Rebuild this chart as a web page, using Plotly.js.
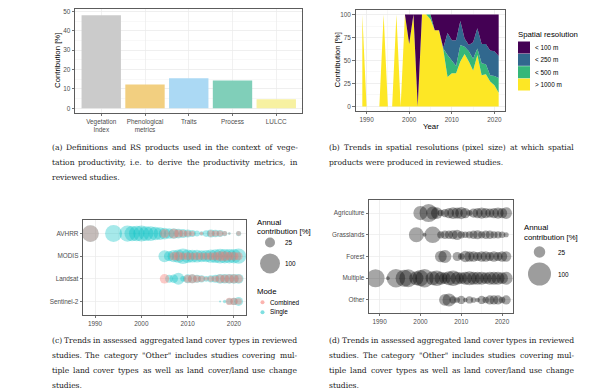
<!DOCTYPE html>
<html><head><meta charset="utf-8">
<script src="https://cdn.plot.ly/plotly-3.0.1.min.js"></script>
<style>html,body{margin:0;padding:0;background:#fff;} #chart{width:590px;height:390px;}</style>
</head><body><div id="chart"></div>
<script>
// ---------- (a) definitions / RS products ----------
const defCategories = ['Vegetation Index','Phenological metrics','Traits','Process','LULCC'];
const defTickLabels = ['Vegetation<br>Index','Phenological<br>metrics','Traits','Process','LULCC'];
const defContribution = [48, 12.3, 15.5, 14.3, 4.7];
const defColors = ['#cbcbcb','#f2cf80','#abd9f4','#80cfb9','#f7f1a1'];

// ---------- (b) spatial resolution (stacked %) ----------
const resYears = [1989,1990,1991,1992,1993,1994,1995,1996,1997,1998,1999,2000,2001,2002,2003,2004,2005,2006,2007,2008,2009,2010,2011,2012,2013,2014,2015,2016,2017,2018,2019,2020,2021];
const res1000 = [100,0,0,0,0,100,0,0,100,0,100,68,100,0,100,100,95,83,83,62,32,36,36,49,57,49,39,56,34,35,27,23,15];
const res500  = [0,0,0,0,0,0,0,0,0,0,0,0,0,0,0,0,5,0,0,1,24,14,8,18,8,11,13,7,13,11,7,10,16];
const res250  = [0,0,0,0,0,0,0,0,0,0,0,0,0,0,0,0,0,0,0,1,24,22,28,26,9,7,18,22,21,22,27,27,24];
const res100  = [0,0,0,0,0,0,0,0,0,0,0,32,0,100,0,0,0,17,17,36,20,28,28,7,26,33,30,15,32,32,39,40,45];
const resNames = ['> 1000 m','< 500 m','< 250 m','< 100 m'];
const resColors = ['#FDE725','#35B779','#31688E','#440154'];

// ---------- (c) sensors ----------
const sensors = ['AVHRR','MODIS','Landsat','Sentinel-2'];
const avhrrSingleYears = [1989,1994,1997,1998,1999,2000,2001,2002,2003,2004,2005,2006,2007,2008,2009,2010,2011,2012,2013,2014,2015,2016,2017,2018,2019,2021];
const avhrrSingleVals  = [70,72,65,58,60,64,55,55,46,40,34,28,28,24,20,16,12,9,5,11,16,14,12,7,2,7];
const avhrrCombYears = [1989,2005,2007,2008,2009,2010,2011,2013,2015,2016,2017,2018,2019,2021];
const avhrrCombVals  = [70,20,24,16,12,10,7,3,11,9,9,6,1,6];
const modisSingleYears = [2005,2006,2007,2008,2009,2010,2011,2012,2013,2014,2015,2016,2017,2018,2019,2020,2021];
const modisSingleVals  = [36,26,38,44,60,46,40,40,36,38,44,48,54,52,52,52,58];
const modisCombYears = [2007,2008,2009,2010,2011,2012,2013,2014,2015,2016,2017,2018,2019,2020,2021];
const modisCombVals  = [18,22,13,15,13,15,13,13,15,18,25,25,20,20,16];
const landsatSingleYears = [2006,2007,2008,2009,2010,2011,2012,2013,2014,2015,2016,2017,2018,2019,2020,2021];
const landsatSingleVals  = [16,18,36,8,20,20,16,13,8,13,16,24,22,24,24,24];
const landsatCombYears = [2005,2010,2011,2012,2013,2014,2015,2016,2017,2018,2019,2020,2021];
const landsatCombVals  = [22,15,20,13,10,4,8,10,18,18,20,20,18];
const s2SingleYears = [2017,2018,2019,2020,2021];
const s2SingleVals  = [1,3,10,13,20];
const s2CombYears = [2019,2020,2021];
const s2CombVals  = [13,13,10];
const modeNames = ['Combined','Single'];
const modeColors = ['rgba(248,118,109,0.55)','rgba(0,191,196,0.5)'];

// ---------- (d) land cover ----------
const landCovers = ['Agriculture','Grasslands','Forest','Multiple','Other'];
const agriYears = [2000,2002,2003,2004,2005,2006,2007,2008,2009,2010,2011,2012,2013,2014,2015,2016,2017,2018,2019,2020,2021];
const agriVals  = [38,62,32,26,8,13,20,26,24,28,20,7,16,20,24,20,16,20,24,20,26];
const grassYears = [1999,2001,2003,2005,2006,2007,2008,2009,2010,2011,2012,2013,2014,2015,2016,2017,2018,2019,2020,2021];
const grassVals  = [42,3,52,10,13,13,16,20,10,8,10,13,16,10,13,13,10,10,8,5];
const forestYears = [2005,2006,2009,2010,2011,2012,2013,2014,2015,2016,2017,2018,2019,2020,2021];
const forestVals  = [26,32,16,8,24,20,20,16,20,20,16,20,16,20,20];
const multiYears = [1989,1992,1994,1996,1997,1999,2000,2001,2003,2004,2005,2006,2007,2008,2009,2010,2011,2012,2013,2014,2015,2016,2017,2018,2019,2020,2021];
const multiVals  = [62,3,64,55,60,38,50,64,38,45,32,26,38,45,32,26,32,38,32,32,32,26,32,32,32,26,32];
const otherYears = [2006,2007,2008,2009,2010,2011,2012,2013,2014,2015,2016,2017,2018,2019,2020,2021];
const otherVals  = [26,32,10,6,13,4,10,6,4,13,8,16,16,16,8,16];

const sizeLegendVals = [25, 100];

// ---------- captions ----------
const captionA = ['(a) Definitions and RS products used in the context of vege-',
  'tation productivity, i.e. to derive the productivity metrics, in', 'reviewed studies.'];
const captionB = ['(b) Trends in spatial resolutions (pixel size) at which spatial',
  'products were produced in reviewed studies.'];
const captionC = ['(c) Trends in assessed aggregated land cover types in reviewed',
  'studies. The category "Other" includes studies covering mul-',
  'tiple land cover types as well as land cover/land use change', 'studies.'];
const captionD = ['(d) Trends in assessed aggregated land cover types in reviewed',
  'studies. The category "Other" includes studies covering mul-',
  'tiple land cover types as well as land cover/land use change', 'studies.'];

// ---------- layout helpers ----------
const W = 590, H = 390;
const SANS = 'Liberation Sans, Arial, sans-serif';
const SERIF_NAME = 'DejaVu Serif';
const CAP_SIZE = 7.6;
const P = x => x / W;
const Q = y => 1 - y / H;
const SREF_C = 0.5, SREF_D = 0.378;

function axis(x0, x1, extra) {
  return Object.assign({
    domain: [P(x0), P(x1)], showline: true, mirror: true, linecolor: '#333', linewidth: 0.8,
    ticks: 'outside', ticklen: 2.5, tickwidth: 0.7, tickcolor: '#333',
    tickfont: {family: SANS, size: 6.4, color: '#4d4d4d'},
    showgrid: true, gridcolor: '#ebebeb', gridwidth: 0.7, zeroline: false, fixedrange: true, automargin: false
  }, extra);
}
function yaxis(y0, y1, extra) { return axis(0, 1, Object.assign({domain: [Q(y1), Q(y0)]}, extra)); }
function txt(x, y, text, size, opts) {
  return Object.assign({xref: 'paper', yref: 'paper', x: P(x), y: Q(y), text: text, showarrow: false,
    xanchor: 'left', yanchor: 'middle', borderpad: 0, borderwidth: 0,
    font: {family: SANS, size: size, color: '#000'}}, opts || {});
}

const traces = [];
traces.push({type: 'bar', x: defCategories, y: defContribution, marker: {color: defColors, line: {width: 0}},
  xaxis: 'x', yaxis: 'y', showlegend: false, hoverinfo: 'none'});
const resSeries = [res1000, res500, res250, res100];
resSeries.forEach((s, i) => traces.push({type: 'scatter', x: resYears, y: s, mode: 'none', stackgroup: 'res',
  fillcolor: resColors[i], name: resNames[i], xaxis: 'x2', yaxis: 'y2', showlegend: false, hoverinfo: 'none'}));
const singleSets = [[avhrrSingleYears, avhrrSingleVals], [modisSingleYears, modisSingleVals], [landsatSingleYears, landsatSingleVals], [s2SingleYears, s2SingleVals]];
const combSets = [[avhrrCombYears, avhrrCombVals], [modisCombYears, modisCombVals], [landsatCombYears, landsatCombVals], [s2CombYears, s2CombVals]];
[[singleSets, 1], [combSets, 0]].forEach(([sets, m]) => {
  sets.forEach(([yrs, vals], i) => traces.push({type: 'scatter', mode: 'markers', x: yrs, y: yrs.map(() => sensors[i]),
    marker: {size: vals, sizemode: 'area', sizeref: SREF_C, color: modeColors[m], line: {width: 0}},
    xaxis: 'x3', yaxis: 'y3', showlegend: false, hoverinfo: 'none'}));
});
const lcSets = [[agriYears, agriVals], [grassYears, grassVals], [forestYears, forestVals], [multiYears, multiVals], [otherYears, otherVals]];
lcSets.forEach(([yrs, vals], i) => traces.push({type: 'scatter', mode: 'markers', x: yrs, y: yrs.map(() => landCovers[i]),
  marker: {size: vals, sizemode: 'area', sizeref: SREF_D, color: 'rgba(0,0,0,0.5)', line: {width: 0}},
  xaxis: 'x4', yaxis: 'y4', showlegend: false, hoverinfo: 'none'}));

// legend keys on a pixel overlay axis
const resKeyY = [84.5, 72.2, 59.8, 47.5];
traces.push({type: 'scatter', mode: 'markers', x: resKeyY.map(() => 524), y: resKeyY,
  marker: {symbol: 'square', size: 12, color: resColors, line: {width: 0}}, xaxis: 'x5', yaxis: 'y5', showlegend: false, hoverinfo: 'none'});
traces.push({type: 'scatter', mode: 'markers', x: [270, 270], y: [242.5, 263.5],
  marker: {size: sizeLegendVals, sizemode: 'area', sizeref: SREF_C, color: 'rgba(0,0,0,0.55)', line: {width: 0}},
  xaxis: 'x5', yaxis: 'y5', showlegend: false, hoverinfo: 'none'});
traces.push({type: 'scatter', mode: 'markers', x: [262.5, 262.5], y: [302.3, 312.3],
  marker: {size: 4, color: modeColors, line: {width: 0}}, xaxis: 'x5', yaxis: 'y5', showlegend: false, hoverinfo: 'none'});
traces.push({type: 'scatter', mode: 'markers', x: [539.5, 539.5], y: [252, 274],
  marker: {size: sizeLegendVals, sizemode: 'area', sizeref: SREF_D, color: 'rgba(0,0,0,0.55)', line: {width: 0}},
  xaxis: 'x5', yaxis: 'y5', showlegend: false, hoverinfo: 'none'});

const annotations = [
  txt(57, 61, 'Contribution [%]', 7.8, {xanchor: 'center', textangle: -90}),
  txt(337, 60.5, 'Contribution [%]', 7.8, {xanchor: 'center', textangle: -90}),
  txt(430.5, 127, 'Year', 7.8, {xanchor: 'center'}),
  txt(518, 34.5, 'Spatial resolution', 7.8),
  txt(257, 222, 'Annual', 7.8), txt(257, 231, 'contribution [%]', 7.8),
  txt(285, 242.5, String(sizeLegendVals[0]), 6.4), txt(285, 263.5, String(sizeLegendVals[1]), 6.4),
  txt(257, 291.5, 'Mode', 7.8),
  txt(524, 227.5, 'Annual', 7.8), txt(524, 237.5, 'contribution [%]', 7.8),
  txt(558, 252, String(sizeLegendVals[0]), 6.4), txt(558, 274, String(sizeLegendVals[1]), 6.4)
];
[...resNames].reverse().forEach((n, i) => annotations.push(txt(535, [47.5, 59.8, 72.2, 84.5][i], n, 6.4)));
modeNames.forEach((n, i) => annotations.push(txt(270, [302.3, 312.3][i], n, 6.4)));

// justified captions (like the LaTeX source)
const ctx = document.createElement('canvas').getContext('2d');
ctx.font = CAP_SIZE + 'px "' + SERIF_NAME + '"';
function capTxt(x, y, s) {
  return txt(x, y, s, CAP_SIZE, {font: {family: SERIF_NAME + ', serif', size: CAP_SIZE, color: '#1a1a1a'}});
}
function addCaption(x0, x1, ys, lines) {
  lines.forEach((line, i) => {
    const y = ys[i];
    if (i === lines.length - 1) { annotations.push(capTxt(x0, y, line)); return; }
    const words = line.split(' ');
    const widths = words.map(w => ctx.measureText(w).width);
    const total = widths.reduce((a, b) => a + b, 0);
    const gap = (x1 - x0 - total) / (words.length - 1);
    let x = x0;
    words.forEach((w, k) => { annotations.push(capTxt(x, y, w)); x += widths[k] + gap; });
  });
}
addCaption(51.5, 297, [147, 162.5, 178], captionA);
addCaption(329, 574, [147, 162.5], captionB);
addCaption(51.5, 297, [340, 355, 370, 385], captionC);
addCaption(329, 574, [340, 355, 370, 385], captionD);

const yearAxis = {range: [1987.4, 2022.6], tickvals: [1990, 2000, 2010, 2020], minor: {dtick: 5, tick0: 0, showgrid: true, gridcolor: '#f2f2f2', gridwidth: 0.5, ticks: ''}};

const layout = {
  width: W, height: H, margin: {l: 0, r: 0, t: 0, b: 0}, paper_bgcolor: '#fff', plot_bgcolor: 'rgba(0,0,0,0)',
  font: {family: SANS}, showlegend: false, bargap: 0.1,
  xaxis: axis(75, 302.5, {type: 'category', categoryarray: defCategories, tickvals: defCategories, ticktext: defTickLabels, range: [-0.6, 4.6], anchor: 'y'}),
  yaxis: yaxis(9, 113, {range: [-2.4, 51.2], tickvals: [0, 10, 20, 30, 40, 50], anchor: 'x', minor: {dtick: 5, showgrid: true, gridcolor: '#f2f2f2', gridwidth: 0.5, ticks: ''}}),
  xaxis2: axis(355.5, 505.5, Object.assign({anchor: 'y2'}, yearAxis)),
  yaxis2: yaxis(10, 111, {range: [-5, 105], tickvals: [0, 25, 50, 75, 100], anchor: 'x2', minor: {dtick: 12.5, showgrid: true, gridcolor: '#f2f2f2', gridwidth: 0.5, ticks: ''}}),
  xaxis3: axis(83, 246, Object.assign({anchor: 'y3'}, yearAxis)),
  yaxis3: yaxis(220, 315, {type: 'category', categoryarray: [...sensors].reverse(), range: [-0.6, 3.6], anchor: 'x3'}),
  xaxis4: axis(369, 512.7, Object.assign({anchor: 'y4'}, yearAxis)),
  yaxis4: yaxis(200, 313, {type: 'category', categoryarray: [...landCovers].reverse(), range: [-0.6, 4.6], anchor: 'x4'}),
  xaxis5: {domain: [0, 1], range: [0, W], visible: false, fixedrange: true, anchor: 'y5'},
  yaxis5: {domain: [0, 1], range: [H, 0], visible: false, fixedrange: true, anchor: 'x5'},
  annotations: annotations
};

Plotly.newPlot('chart', traces, layout, {staticPlot: true, displayModeBar: false});
</script></body></html>
